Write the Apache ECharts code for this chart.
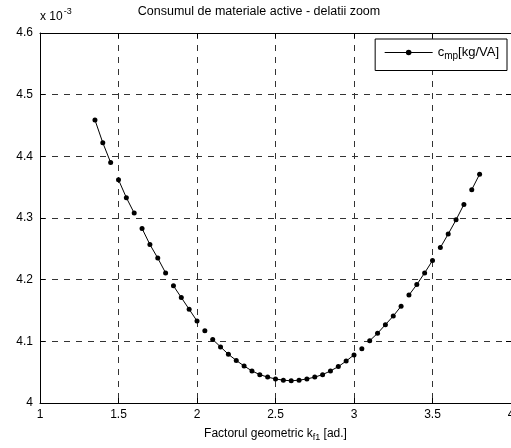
<!DOCTYPE html>
<html><head><meta charset="utf-8">
<script src="https://cdn.jsdelivr.net/npm/echarts@6/dist/echarts.min.js"></script>
<style>html,body{margin:0;padding:0;background:#fff}#c{width:511px;height:448px}</style>
</head><body><div id="c"></div>
<script>
const xValues = [1.35,1.40,1.45,1.50,1.55,1.60,1.65,1.70,1.75,1.80,1.85,1.90,1.95,2.00,2.05,2.10,2.15,2.20,2.25,2.30,2.35,2.40,2.45,2.50,2.55,2.60,2.65,2.70,2.75,2.80,2.85,2.90,2.95,3.00,3.05,3.10,3.15,3.20,3.25,3.30,3.35,3.40,3.45,3.50,3.55,3.60,3.65,3.70,3.75,3.80];
const cmp = [4.459,4.422,4.390,4.362,4.333,4.308,4.283,4.257,4.235,4.211,4.190,4.171,4.152,4.133,4.117,4.103,4.091,4.079,4.069,4.060,4.052,4.046,4.042,4.039,4.037,4.036,4.037,4.039,4.042,4.046,4.052,4.059,4.068,4.078,4.088,4.101,4.113,4.127,4.141,4.157,4.175,4.192,4.211,4.231,4.252,4.274,4.297,4.322,4.346,4.371];
const breaksAfter = [1.45,1.60,1.80,2.00,2.05,3.00,3.05,3.30,3.50,3.70];
const xTicks = [1,1.5,2,2.5,3,3.5,4];
const yTicks = [4,4.1,4.2,4.3,4.4,4.5,4.6];
const titleText = 'Consumul de materiale active - delatii zoom';

const data = [];
xValues.forEach((x,i)=>{
  data.push([x,cmp[i]]);
  if (breaksAfter.some(b=>Math.abs(b-x)<1e-9)) data.push([x+0.025,'-']);
});

const font = 'Liberation Sans, Arial, sans-serif';
const chart = echarts.init(document.getElementById('c'),null,{renderer:'canvas'});
const gridDash = {show:true,lineStyle:{color:'#333',type:[6,6],width:1}};
chart.setOption({
  animation:false,
  backgroundColor:'#fff',
  textStyle:{fontFamily:font},
  grid:{left:40,right:0,top:33,bottom:45,containLabel:false,outerBoundsMode:'none'},
  graphic:[
    {type:'text',x:259,y:5,style:{text:titleText,font:'12.5px '+font,fill:'#000',textAlign:'center'}},
    {type:'text',x:40,y:5,style:{text:'{a|x 10}{s|-3}',fill:'#000',
      rich:{a:{fontSize:12,fontFamily:font,padding:[6,0,0,0]},s:{fontSize:9,fontFamily:font,padding:[0,0,4,1]}}}}
  ],
  legend:{
    show:true,right:4,top:39,orient:'vertical',
    backgroundColor:'#fff',borderColor:'#000',borderWidth:1,borderRadius:0,
    padding:[7,8,9,9],itemWidth:48,itemHeight:7,itemGap:0,
    lineStyle:{width:1},
    formatter:function(){return '{a|c}{b|mp}{a|[kg/VA]}';},
    textStyle:{rich:{a:{fontSize:13,fontFamily:font,color:'#000'},b:{fontSize:10,fontFamily:font,color:'#000',padding:[8,0,0,0]}}},
    data:['cmp']
  },
  xAxis:[{
    type:'value',min:1,max:4,interval:0.5,
    axisLine:{show:true,onZero:false,lineStyle:{color:'#000',width:1}},
    axisTick:{show:true,inside:true,length:5,lineStyle:{color:'#000'}},
    axisLabel:{show:true,color:'#000',fontSize:12,fontFamily:font,margin:6,formatter:v=>String(v)},
    splitLine:gridDash,
    name:'{a|Factorul geometric k}{b|f1}{a| [ad.]}',nameLocation:'middle',nameGap:22,
    nameTextStyle:{rich:{a:{fontSize:12,fontFamily:font,color:'#000'},b:{fontSize:9,fontFamily:font,color:'#000',padding:[8,0,0,0]}}}
  },{
    type:'value',min:1,max:4,interval:0.5,position:'top',
    axisLine:{show:true,onZero:false,lineStyle:{color:'#000',width:1}},
    axisTick:{show:true,inside:true,length:5,lineStyle:{color:'#000'}},
    axisLabel:{show:false},splitLine:{show:false}
  }],
  yAxis:[{
    type:'value',min:4,max:4.6,interval:0.1,
    axisLine:{show:true,onZero:false,lineStyle:{color:'#000',width:1}},
    axisTick:{show:true,inside:true,length:5,lineStyle:{color:'#000'}},
    axisLabel:{show:true,color:'#000',fontSize:12,fontFamily:font,margin:7,
      formatter:v=>{const t=yTicks.find(k=>Math.abs(k-v)<1e-6);return t===undefined?'':String(t);}},
    splitLine:gridDash
  },{
    type:'value',min:4,max:4.6,interval:0.1,position:'right',
    axisLine:{show:true,onZero:false,lineStyle:{color:'#000',width:1}},
    axisTick:{show:true,inside:true,length:5,lineStyle:{color:'#000'}},
    axisLabel:{show:false},splitLine:{show:false}
  }],
  series:[{
    name:'cmp',type:'line',data:data,connectNulls:false,
    symbol:'circle',symbolSize:5,showSymbol:true,showAllSymbol:true,
    lineStyle:{color:'#000',width:1},itemStyle:{color:'#000'},
    emphasis:{disabled:true},z:5
  }]
});
</script></body></html>
